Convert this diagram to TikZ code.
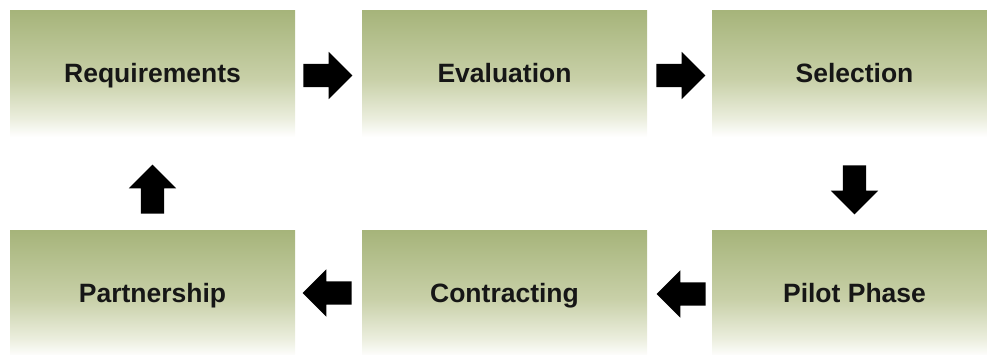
\documentclass[tikz,border=0pt]{standalone}
\usepackage{fontspec}
\setmainfont{Liberation Sans}
\usetikzlibrary{calc,shapes.arrows}

\definecolor{fadetop}{RGB}{166,180,122}
\definecolor{fademid}{RGB}{200,208,168}
\definecolor{fadelow}{RGB}{234,237,220}
\definecolor{stagetext}{RGB}{22,22,22}

% olive at the top, running out to white near the bottom edge
\pgfdeclareverticalshading{stagefade}{100bp}{color(0bp)=(white); color(29bp)=(white);
  color(36bp)=(fadelow); color(50bp)=(fademid); color(75bp)=(fadetop); color(100bp)=(fadetop)}

\begin{document}
\begin{tikzpicture}[
    x=1pt, y=-1pt,
    stage/.style={
        rectangle,
        shading=stagefade,
        minimum width=285pt,
        minimum height=138pt,
        inner sep=0pt,
        text=stagetext,
        text height=19pt,  % extra depth lifts the label a little above centre
        text depth=13pt,
        font=\fontsize{26.5}{30}\selectfont\bfseries
    },
    flow/.style={
        single arrow,
        fill=black,
        draw=none,
        inner sep=11.5pt,  % gives the shaft its thickness
        minimum height=49pt,
        single arrow head extend=12pt,
        anchor=tail
    }
]
\useasboundingbox (0,0) rectangle (987,354);
\clip (0,0) rectangle (987,354);

% top row
\node[stage] (req) at (152.5,79) {Requirements};
\node[stage] (eval) at (504.5,79) {Evaluation};
\node[stage] (sel) at (854.5,79) {Selection};

% bottom row
\node[stage] (part) at (152.5,299) {Partnership};
\node[stage] (contr) at (504.5,299) {Contracting};
\node[stage] (pilot) at (854.5,299) {Pilot Phase};

% block arrows between the stages, placed by their tails
\node[flow] (reqeval) at ($(req.east)+(8,-3.5)$) {};
\node[flow] (evalsel) at ($(eval.east)+(9,-3.5)$) {};
\node[flow, shape border rotate=270] (selpilot) at ($(sel.south)+(0,17)$) {};
\node[flow, shape border rotate=180] (pilotcontr) at ($(pilot.west)+(-6,-5)$) {};
\node[flow, shape border rotate=180] (contrpart) at ($(contr.west)+(-10,-6)$) {};
\node[flow, shape border rotate=90] (partreq) at ($(part.north)+(0,-16)$) {};
\end{tikzpicture}
\end{document}
